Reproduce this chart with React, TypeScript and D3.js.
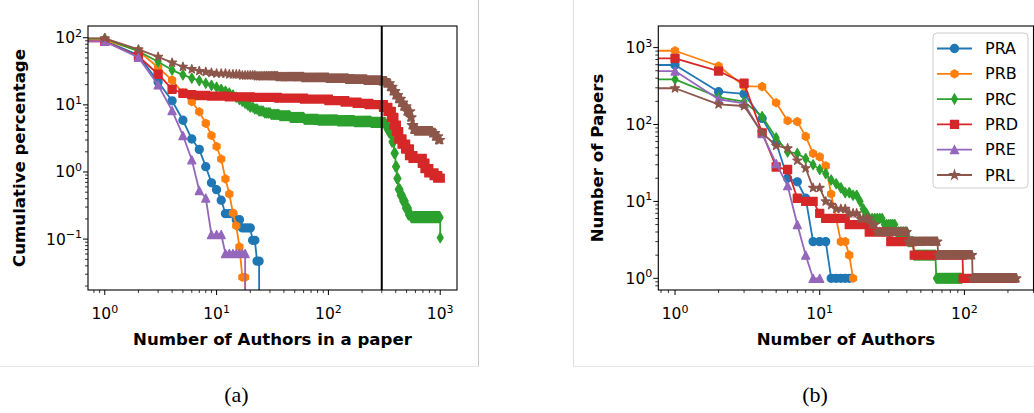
import React from 'react';
import * as d3 from 'd3';

type Run = [number, number, number]; // [first n, last n, value] — value held for every integer n in the run

const SERIES = ['PRA', 'PRB', 'PRC', 'PRD', 'PRE', 'PRL'];
const COLORS = ['#1f77b4', '#ff7f0e', '#2ca02c', '#d62728', '#9467bd', '#8c564b'];
const MARKERS = ['circle', 'hexagon', 'thin_diamond', 'square', 'triangle', 'star'];

// ---------- Panel (a): cumulative percentage vs number of authors ----------
const A_PRA: Run[] = [[0, 0, 100], [1, 1, 90], [2, 2, 55], [3, 3, 22], [4, 4, 11.5], [5, 5, 5.9], [6, 6, 3.1], [7, 7, 2.17], [8, 8, 1.2], [9, 9, 0.69], [10, 10, 0.545], [11, 11, 0.38], [12, 14, 0.24], [15, 16, 0.195], [17, 20, 0.147], [21, 22, 0.096], [23, 24, 0.047], [25, 25, 0]];
const A_PRB: Run[] = [[0, 0, 100], [1, 1, 92], [2, 2, 64], [3, 3, 36], [4, 4, 23.4], [5, 5, 15], [6, 6, 11.2], [7, 7, 7.9], [8, 8, 5.3], [9, 9, 3.5], [10, 10, 2.4], [11, 11, 1.56], [12, 12, 0.79], [13, 13, 0.47], [14, 14, 0.245], [15, 15, 0.158], [16, 16, 0.077], [17, 18, 0.027], [19, 19, 0]];
const A_PRC: Run[] = [[0, 0, 100], [1, 1, 97], [2, 2, 63], [3, 3, 44], [4, 4, 33], [5, 5, 28], [6, 6, 25], [7, 7, 23], [8, 8, 21], [9, 9, 19.5], [10, 10, 18.3], [11, 11, 17], [12, 12, 16], [13, 13, 15], [14, 14, 14], [15, 15, 13], [16, 16, 12], [17, 17, 11.3], [18, 18, 10.6], [19, 19, 10], [20, 21, 9.3], [22, 23, 8.7], [24, 26, 8.1], [27, 30, 7.6], [31, 36, 7.2], [37, 45, 6.9], [46, 60, 6.5], [61, 80, 6.1], [81, 120, 5.95], [121, 170, 5.8], [171, 240, 5.65], [241, 320, 5.5], [321, 335, 5.0], [336, 350, 4.3], [351, 369, 3.8], [370, 385, 2.8], [386, 397, 1.9], [398, 408, 1.2], [409, 420, 0.8], [421, 437, 0.55], [438, 460, 0.45], [461, 487, 0.37], [488, 519, 0.29], [520, 550, 0.23], [551, 999, 0.21], [1000, 1000, 0.105]];
const A_PRD: Run[] = [[0, 0, 100], [1, 1, 88], [2, 2, 53], [3, 3, 28.6], [4, 4, 17.1], [5, 5, 14.9], [6, 6, 14.2], [7, 8, 13.8], [9, 12, 13.5], [13, 20, 13.2], [21, 35, 12.9], [36, 60, 12.6], [61, 100, 12.2], [101, 140, 11.6], [141, 180, 11], [181, 230, 10.5], [231, 310, 10.1], [311, 340, 9.2], [341, 365, 8], [366, 385, 6.5], [386, 405, 5], [406, 425, 4], [426, 455, 3.1], [456, 490, 2.6], [491, 530, 2.2], [531, 570, 1.75], [571, 690, 1.6], [691, 730, 1.35], [731, 790, 1.12], [791, 880, 0.97], [881, 950, 0.88], [951, 1000, 0.81]];
const A_PRE: Run[] = [[0, 0, 100], [1, 1, 88], [2, 2, 51], [3, 3, 19.8], [4, 4, 8.2], [5, 5, 3.5], [6, 6, 1.52], [7, 7, 0.53], [8, 8, 0.41], [9, 11, 0.117], [12, 18, 0.061], [19, 19, 0]];
const A_PRL: Run[] = [[0, 0, 100], [1, 1, 98], [2, 2, 67], [3, 3, 52], [4, 4, 42.5], [5, 5, 37], [6, 6, 34], [7, 7, 32], [8, 8, 31], [9, 9, 30], [10, 12, 29.3], [13, 16, 28.5], [17, 22, 27.5], [23, 35, 26.8], [36, 60, 26], [61, 100, 25.3], [101, 150, 24.6], [151, 220, 23.8], [221, 300, 23], [301, 330, 22.5], [331, 355, 21], [356, 375, 18.5], [376, 397, 16], [398, 420, 14], [421, 445, 12.3], [446, 467, 10.8], [468, 500, 9.5], [501, 540, 8], [541, 555, 6.5], [556, 575, 5], [576, 620, 4.3], [621, 850, 4.05], [851, 900, 3.8], [901, 960, 3.4], [961, 1000, 3.0]];
const A_CUTOFF = 300;

// ---------- Panel (b): number of papers vs number of authors ----------
const B_PRA: Run[] = [[0, 0, 594], [1, 1, 594], [2, 2, 267], [3, 3, 250], [4, 4, 120], [5, 5, 58], [6, 6, 20], [7, 7, 18], [8, 8, 11], [9, 11, 3], [12, 16, 1]];
const B_PRB: Run[] = [[0, 0, 910], [1, 1, 910], [2, 2, 577], [3, 3, 316], [4, 4, 311], [5, 5, 192], [6, 6, 112], [7, 7, 109], [8, 8, 70], [9, 9, 42], [10, 10, 38], [11, 11, 29], [12, 12, 12.5], [13, 13, 6], [14, 15, 3], [16, 16, 2], [17, 17, 1]];
const B_PRC: Run[] = [[0, 0, 387], [1, 1, 387], [2, 2, 226], [3, 3, 198], [4, 4, 127], [5, 5, 67], [6, 6, 44], [7, 7, 42], [8, 8, 36], [9, 9, 30], [10, 10, 26], [11, 11, 23], [12, 12, 19], [13, 13, 17], [14, 14, 15], [15, 16, 13], [17, 18, 12], [19, 19, 10], [20, 20, 8], [21, 21, 7], [22, 27, 6], [28, 33, 5], [34, 40, 4], [41, 44, 3], [45, 63, 2], [64, 96, 1]];
const B_PRD: Run[] = [[0, 0, 725], [1, 1, 725], [2, 2, 496], [3, 3, 344], [4, 4, 78], [5, 5, 28], [6, 6, 26], [7, 7, 11], [8, 9, 10], [10, 10, 7], [11, 15, 6], [16, 21, 5], [22, 30, 4], [31, 44, 3], [45, 97, 2], [98, 215, 1]];
const B_PRE: Run[] = [[0, 0, 496], [1, 1, 496], [2, 2, 213], [3, 3, 188], [4, 4, 76], [5, 5, 31], [6, 6, 16], [7, 7, 5], [8, 8, 2], [9, 10, 1]];
const B_PRL: Run[] = [[0, 0, 296], [1, 1, 296], [2, 2, 183], [3, 3, 174], [4, 4, 78], [5, 5, 53], [6, 6, 49], [7, 7, 34], [8, 8, 27], [9, 10, 15], [11, 11, 10], [12, 12, 9], [13, 15, 8], [16, 18, 7], [19, 22, 6], [23, 24, 5], [25, 40, 4], [41, 65, 3], [66, 113, 2], [114, 229, 1]];

const A_SERIES = [A_PRA, A_PRB, A_PRC, A_PRD, A_PRE, A_PRL];
const B_SERIES = [B_PRA, B_PRB, B_PRC, B_PRD, B_PRE, B_PRL];

const A_X_TICKS = [1, 10, 100, 1000];
const A_Y_TICKS = [0.1, 1, 10, 100];
const B_X_TICKS = [1, 10, 100];
const B_Y_TICKS = [1, 10, 100, 1000];

const A_XLABEL = 'Number of Authors in a paper';
const A_YLABEL = 'Cumulative percentage';
const B_XLABEL = 'Number of Authors';
const B_YLABEL = 'Number of Papers';

const TICK_FONT = 15.5;
const SUP_FONT = 11;
const LABEL_FONT = 16.6;
const MS = 8;
const MEW = 1.3;
const LW = 1.8;

function expand(runs: Run[]): [number, number][] {
  const pts: [number, number][] = [];
  for (const [s, e, v] of runs) for (let n = s; n <= e; n++) pts.push([n, v]);
  return pts;
}

function poly(pts: [number, number][]): string {
  return 'M' + pts.map((p) => p[0].toFixed(2) + ',' + p[1].toFixed(2)).join('L') + 'Z';
}

function markerD(kind: string, cx: number, cy: number, s: number): string {
  const h = s / 2;
  switch (kind) {
    case 'circle':
      return `M${cx + h},${cy}A${h},${h} 0 1,1 ${cx - h},${cy}A${h},${h} 0 1,1 ${cx + h},${cy}Z`;
    case 'square':
      return poly([[cx - h, cy - h], [cx + h, cy - h], [cx + h, cy + h], [cx - h, cy + h]]);
    case 'thin_diamond': {
      const a = 0.62 * s, b = 0.36 * s;
      return poly([[cx, cy - a], [cx + b, cy], [cx, cy + a], [cx - b, cy]]);
    }
    case 'triangle':
      return poly([[cx, cy - h], [cx + h, cy + h], [cx - h, cy + h]]);
    case 'hexagon': {
      const pts: [number, number][] = [];
      for (let i = 0; i < 6; i++) {
        const a = -Math.PI / 2 + (i * Math.PI) / 3;
        pts.push([cx + h * Math.cos(a), cy + h * Math.sin(a)]);
      }
      return poly(pts);
    }
    case 'star': {
      const pts: [number, number][] = [];
      const R = h * 1.15, r = R * 0.381966;
      for (let i = 0; i < 10; i++) {
        const a = -Math.PI / 2 + (i * Math.PI) / 5;
        const rr = i % 2 === 0 ? R : r;
        pts.push([cx + rr * Math.cos(a), cy + rr * Math.sin(a)]);
      }
      return poly(pts);
    }
  }
  return '';
}

function supText(v: number): string {
  const e = Math.round(Math.log10(v));
  return e < 0 ? '\u2212' + Math.abs(e) : String(e);
}

function minorTicks(domain: number[]): number[] {
  const out: number[] = [];
  const lo = Math.floor(Math.log10(domain[0])), hi = Math.ceil(Math.log10(domain[1]));
  for (let d = lo; d <= hi; d++) {
    for (let k = 2; k <= 9; k++) {
      const v = k * Math.pow(10, d);
      if (v >= domain[0] && v <= domain[1]) out.push(v);
    }
  }
  return out;
}

type PanelProps = {
  id: string;
  left: number; right: number; top: number; bottom: number;
  xDomain: [number, number]; yDomain: [number, number];
  series: Run[][];
  xTicks: number[]; yTicks: number[];
  xLabel: string; yLabel: string;
  yLabelX: number;
  cutoff?: number;
  legend?: boolean;
};

function Panel(p: PanelProps) {
  const x = d3.scaleLog().domain(p.xDomain).range([p.left, p.right]);
  const y = d3.scaleLog().domain(p.yDomain).range([p.bottom, p.top]);
  const TINY = 1e-30;
  const line = d3.line<[number, number]>()
    .x((d) => x(d[0] > 0 ? d[0] : TINY))
    .y((d) => y(d[1] > 0 ? d[1] : TINY));
  const clipId = 'clip-' + p.id;
  const w = p.right - p.left, h = p.bottom - p.top;
  const xMinor = minorTicks(p.xDomain);
  const yMinor = minorTicks(p.yDomain);

  return (
    <g>
      <defs>
        <clipPath id={clipId}>
          <rect x={p.left} y={p.top} width={w} height={h} />
        </clipPath>
      </defs>
      <g clipPath={`url(#${clipId})`}>
        {p.series.map((runs, i) => {
          const pts = expand(runs);
          const mk = pts
            .filter((d) => d[0] > 0 && d[1] > 0)
            .map((d) => markerD(MARKERS[i], x(d[0]), y(d[1]), MS))
            .join('');
          return (
            <g key={SERIES[i]}>
              <path d={line(pts) || ''} fill="none" stroke={COLORS[i]} strokeWidth={LW} strokeLinejoin="round" />
              <path d={mk} fill={COLORS[i]} stroke={COLORS[i]} strokeWidth={MEW} strokeLinejoin="round" />
            </g>
          );
        })}
        {p.cutoff !== undefined && (
          <line x1={x(p.cutoff)} x2={x(p.cutoff)} y1={p.top} y2={p.bottom} stroke="#000" strokeWidth={2} />
        )}
      </g>
      <rect x={p.left} y={p.top} width={w} height={h} fill="none" stroke="#000" strokeWidth={1.1} />
      {xMinor.map((v) => (
        <line key={'xm' + v} x1={x(v)} x2={x(v)} y1={p.bottom} y2={p.bottom + 3} stroke="#000" strokeWidth={0.8} />
      ))}
      {p.xTicks.map((v) => (
        <g key={'xt' + v}>
          <line x1={x(v)} x2={x(v)} y1={p.bottom} y2={p.bottom + 5} stroke="#000" strokeWidth={1} />
          <text x={x(v)} y={p.bottom + 29} textAnchor="middle" fontFamily="DejaVu Sans" fontSize={TICK_FONT} fill="#000">
            <tspan>10</tspan>
            <tspan dy={-6.5} fontSize={SUP_FONT}>{supText(v)}</tspan>
          </text>
        </g>
      ))}
      {yMinor.map((v) => (
        <line key={'ym' + v} x1={p.left - 3} x2={p.left} y1={y(v)} y2={y(v)} stroke="#000" strokeWidth={0.8} />
      ))}
      {p.yTicks.map((v) => (
        <g key={'yt' + v}>
          <line x1={p.left - 5} x2={p.left} y1={y(v)} y2={y(v)} stroke="#000" strokeWidth={1} />
          <text x={p.left - 6} y={y(v) + 5.5} textAnchor="end" fontFamily="DejaVu Sans" fontSize={TICK_FONT} fill="#000">
            <tspan>10</tspan>
            <tspan dy={-6.5} fontSize={SUP_FONT}>{supText(v)}</tspan>
          </text>
        </g>
      ))}
      <text x={(p.left + p.right) / 2} y={p.bottom + 55} textAnchor="middle" fontFamily="DejaVu Sans" fontWeight="bold" fontSize={LABEL_FONT} fill="#000">
        {p.xLabel}
      </text>
      <text transform={`translate(${p.yLabelX},${(p.top + p.bottom) / 2}) rotate(-90)`} textAnchor="middle" fontFamily="DejaVu Sans" fontWeight="bold" fontSize={LABEL_FONT} fill="#000">
        {p.yLabel}
      </text>
      {p.legend && <Legend />}
    </g>
  );
}

function Legend() {
  const x0 = 933, y0 = 33, bw = 95, bh = 155;
  const rowH = 25.3;
  return (
    <g>
      <rect x={x0} y={y0} width={bw} height={bh} rx={4} fill="#fff" fillOpacity={0.8} stroke="#cccccc" strokeWidth={1} />
      {SERIES.map((name, i) => {
        const cy = y0 + 15.5 + i * rowH;
        return (
          <g key={name}>
            <line x1={937} x2={972} y1={cy} y2={cy} stroke={COLORS[i]} strokeWidth={LW} />
            <path d={markerD(MARKERS[i], 954.5, cy, MS)} fill={COLORS[i]} stroke={COLORS[i]} strokeWidth={MEW} />
            <text x={985} y={cy + 5.5} fontFamily="DejaVu Sans" fontSize={16} fill="#000">{name}</text>
          </g>
        );
      })}
    </g>
  );
}

export default function App() {
  return (
    <div style={{ position: 'absolute', left: 0, top: 0 }}>
      <svg width={1034} height={413} viewBox="0 0 1034 413" style={{ display: 'block', background: '#fff' }}>
        <rect x={0} y={0} width={1034} height={413} fill="#fff" />
        <line x1={478.5} x2={478.5} y1={0} y2={366} stroke="#c8c8c8" strokeWidth={1} />
        <line x1={0} x2={479} y1={366.5} y2={366.5} stroke="#e6e6e6" strokeWidth={1} />
        <line x1={573.5} x2={573.5} y1={0} y2={366} stroke="#e0e0e0" strokeWidth={1} />
        <line x1={573} x2={1034} y1={366.5} y2={366.5} stroke="#e6e6e6" strokeWidth={1} />
        <Panel
          id="a" left={88} right={457} top={26} bottom={290}
          xDomain={[Math.pow(10, -0.15), Math.pow(10, 3.15)]}
          yDomain={[Math.pow(10, -1.758), Math.pow(10, 2.175)]}
          series={A_SERIES} xTicks={A_X_TICKS} yTicks={A_Y_TICKS}
          xLabel={A_XLABEL} yLabel={A_YLABEL} yLabelX={25} cutoff={A_CUTOFF}
        />
        <Panel
          id="b" left={658.3} right={1033.5} top={26} bottom={290}
          xDomain={[Math.pow(10, -0.1156), Math.pow(10, 2.4775)]}
          yDomain={[Math.pow(10, -0.152), Math.pow(10, 3.281)]}
          series={B_SERIES} xTicks={B_X_TICKS} yTicks={B_Y_TICKS}
          xLabel={B_XLABEL} yLabel={B_YLABEL} yLabelX={603} legend
        />
        <text x={236.5} y={402} textAnchor="middle" fontFamily="Liberation Serif" fontSize={22} fill="#000">(a)</text>
        <text x={815} y={402} textAnchor="middle" fontFamily="Liberation Serif" fontSize={22} fill="#000">(b)</text>
      </svg>
    </div>
  );
}
